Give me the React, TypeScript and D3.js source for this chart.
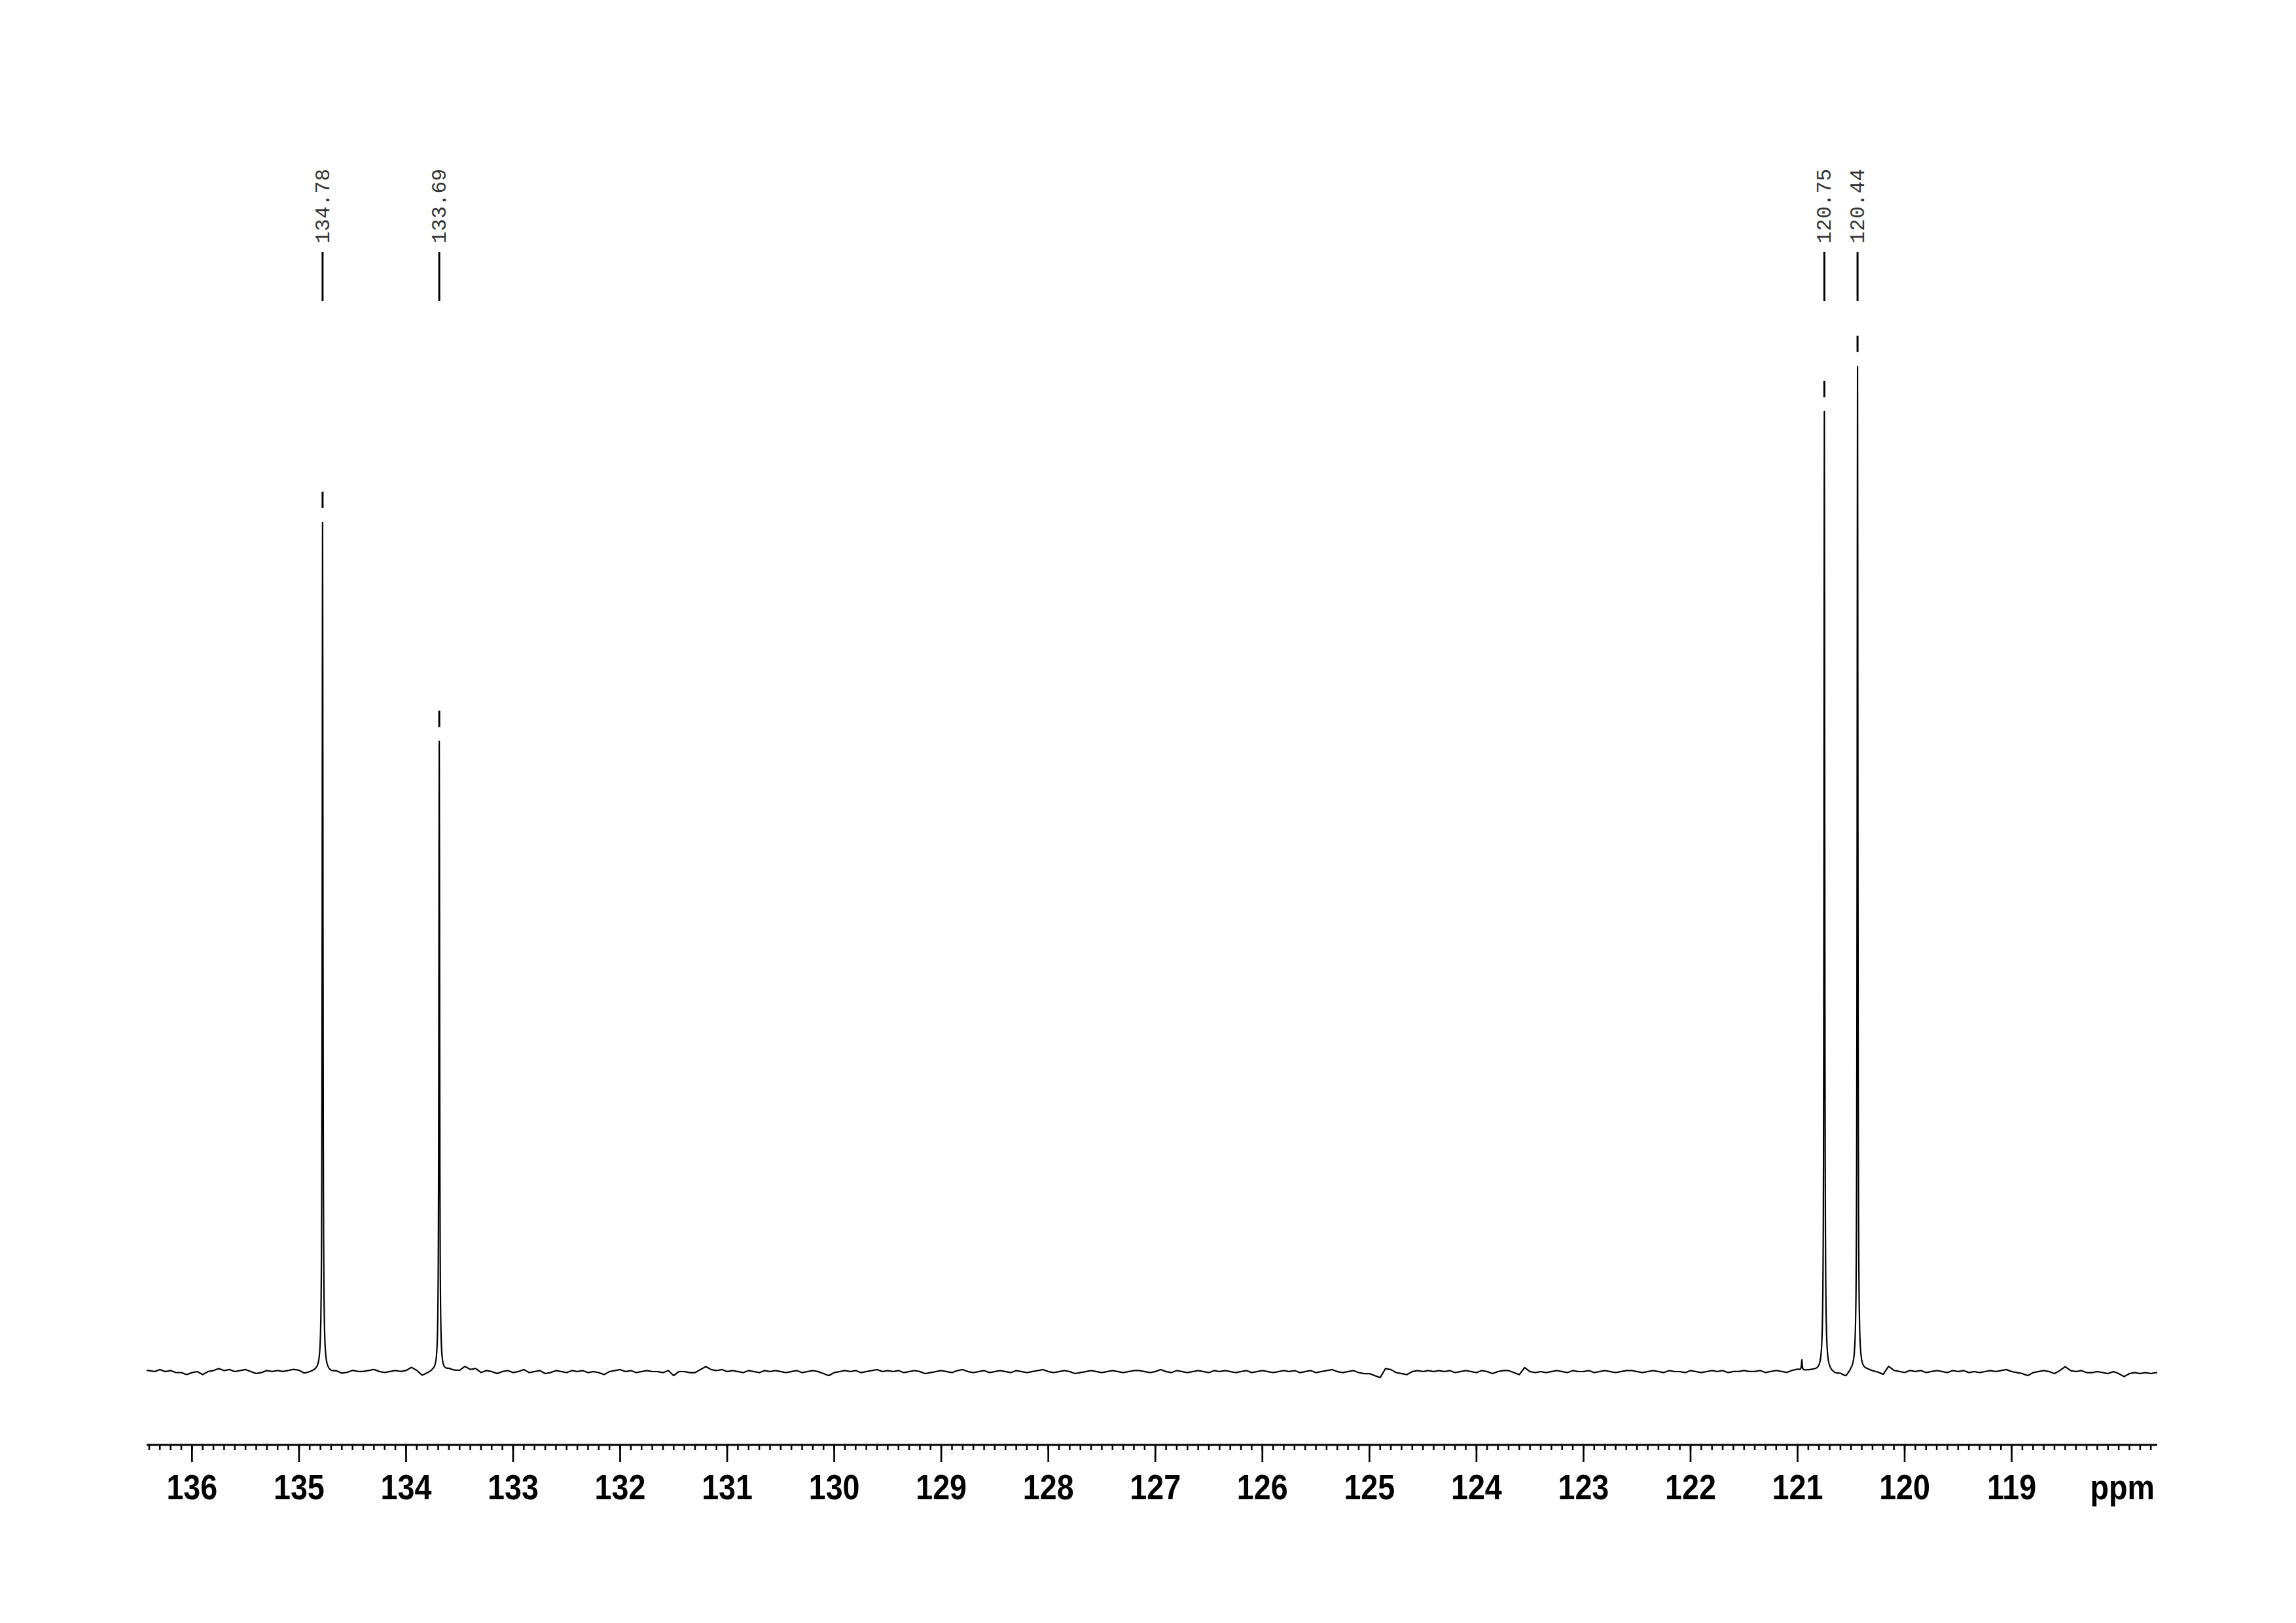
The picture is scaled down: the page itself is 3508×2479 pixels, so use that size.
import React from "react";
import * as d3 from "d3";

// ---- data ----
const PEAK_PPM = [134.78, 133.69, 120.75, 120.44];
const PEAK_HEIGHT = [845, 627, 955, 1000];
const PEAK_HALF_WIDTH = [0.0042, 0.0042, 0.0042, 0.0042];
const PEAK_LABELS = ["134.78", "133.69", "120.75", "120.44"];

const MINOR_PEAK_PPM = [120.96];
const MINOR_PEAK_HEIGHT = [10];
const MINOR_PEAK_HALF_WIDTH = [0.004];

// baseline noise, one value every 0.05 ppm starting at 136.40 ppm
const BASELINE_START = 136.4;
const BASELINE_STEP = 0.05;
const BASELINE = [
  1, 0, 2, 0, 1, -1, -1, -3, -1, 0, -3, 0, 1, 3, 1, 2, 0, 1, 2, 0,
  -2, -1, 1, 0, 1, 0, 1, 2, 1, -2, -1, 0, 0, 0, -1, 0, -2, -1, 1, 0,
  0, 1, 2, 0, -1, 0, 1, 0, 1, 4, 1, -4, -2, 0, 0, 0, 2, 1, 1, 5,
  2, 3, -1, 1, 0, -2, 0, 1, -1, 0, 2, -1, 0, 1, -2, -1, 1, 0, -1, 1,
  0, 1, -1, 0, -1, -3, 0, 1, 2, 0, 1, -1, 0, 1, 0, 0, -1, 1, -4, 0,
  0, -1, -1, 2, 5, 2, 1, 2, 0, 1, 0, -1, 1, 0, -1, 1, 0, 1, 0, -1,
  0, 1, -1, 0, 1, 0, -2, -4, -1, 0, 1, 0, 1, -1, 0, 1, 2, 0, 1, 0,
  1, -1, 0, 1, 0, -2, -1, 0, 1, 0, -1, 1, 2, 0, -1, 0, 1, -1, 0, 1,
  0, -1, 1, 0, -1, 0, 1, 2, 0, -1, 0, 1, 0, -2, -1, 0, 1, 0, -1, 0,
  1, 0, -1, 0, 1, 1, 0, -1, 0, 2, 0, -1, 1, 0, -1, 0, 1, 0, -1, 1,
  0, 1, 0, -1, 0, 1, -1, 0, 1, 0, -1, 0, 1, 0, 1, -1, 0, 1, -1, 0,
  1, 2, 0, -1, 0, 1, -1, -2, -2, -4, -6, 3, 2, -1, -2, -3, 0, 1, 0, 1,
  0, 1, 0, 1, -1, 0, 1, 0, -1, 1, 0, -2, 0, 1, 1, -1, -3, 4, 0, -1,
  0, -1, 0, 1, 0, -1, 1, 0, 0, 1, -1, 0, 1, 0, -1, 0, 1, 1, 0, -1,
  0, 1, 0, -1, 1, 0, 0, -1, 1, 0, -1, 0, 1, 0, 1, -1, 0, 0, 1, 0,
  0, 1, -1, 0, 1, 0, -1, 1, 2, 1, 1, 1, 0, 0, -1, -3, -3, -6, -1, 0,
  0, 1, 0, -1, -3, 5, 1, 0, -1, 1, 0, 1, -1, 0, 1, 0, -1, 1, 0, 1,
  -1, 0, -1, 0, 1, 0, 1, 2, 0, -1, -2, -4, -1, 0, 1, 0, -2, 1, 5, 1,
  0, 1, -1, -1, 0, -1, -2, 0, -2, -5, -2, -1, -2, -1, -2, -1,
];

const X_DOMAIN = [136.424, 117.64];
const MAJOR_TICKS = [136, 135, 134, 133, 132, 131, 130, 129, 128, 127, 126, 125, 124, 123, 122, 121, 120, 119];
const MINOR_TICK_START = 136.4;
const MINOR_TICK_END = 117.7;
const MINOR_TICK_STEP = 0.1;
const UNIT_LABEL = "ppm";

// ---- layout ----
const W = 3508;
const H = 2479;
const X0 = 224;
const X1 = 3296;
const Y_BASE = 2095;
const Y_REF_TOP = 560;
const AXIS_Y = 2207;

function baselineAt(ppm: number): number {
  const t = (BASELINE_START - ppm) / BASELINE_STEP;
  if (t <= 0) return BASELINE[0];
  if (t >= BASELINE.length - 1) return BASELINE[BASELINE.length - 1];
  const i = Math.floor(t);
  const f = t - i;
  return BASELINE[i] * (1 - f) + BASELINE[i + 1] * f;
}

function lorentz(ppm: number, c: number, h: number, g: number): number {
  const d = (ppm - c) / g;
  return h / (1 + d * d);
}

function intensityAt(ppm: number): number {
  let v = baselineAt(ppm);
  PEAK_PPM.forEach((c, i) => {
    v += lorentz(ppm, c, PEAK_HEIGHT[i], PEAK_HALF_WIDTH[i]);
  });
  MINOR_PEAK_PPM.forEach((c, i) => {
    v += lorentz(ppm, c, MINOR_PEAK_HEIGHT[i], MINOR_PEAK_HALF_WIDTH[i]);
  });
  return v;
}

export default function App() {
  const x = d3.scaleLinear().domain(X_DOMAIN).range([X0, X1]);
  const y = d3.scaleLinear().domain([0, 1000]).range([Y_BASE, Y_REF_TOP]);

  const step = 0.002;
  const n = Math.round((X_DOMAIN[0] - X_DOMAIN[1]) / step);
  const ppms = d3.range(0, n + 1).map((i) => X_DOMAIN[0] - i * step);
  const all = ppms.concat(PEAK_PPM, MINOR_PEAK_PPM).sort((a, b) => b - a);
  const pts = all.map((p) => [p, intensityAt(p)] as [number, number]);

  const line = d3
    .line<[number, number]>()
    .x((d) => x(d[0]))
    .y((d) => y(d[1]));

  const nMinor = Math.round((MINOR_TICK_START - MINOR_TICK_END) / MINOR_TICK_STEP);
  const minorTicks = d3.range(0, nMinor + 1).map((i) => +(MINOR_TICK_START - i * MINOR_TICK_STEP).toFixed(2));

  return (
    <svg
      width={W}
      height={H}
      viewBox={`0 0 ${W} ${H}`}
      style={{ position: "absolute", left: 0, top: 0, display: "block", background: "#fff" }}
    >
      <rect x={0} y={0} width={W} height={H} fill="#fff" />
      {/* spectrum */}
      <path d={line(pts) || ""} fill="none" stroke="#000" strokeWidth={2.2} strokeLinejoin="round" />

      {/* peak-top markers */}
      {PEAK_PPM.map((p, i) => {
        const yt = y(intensityAt(p));
        return (
          <line key={"m" + i} x1={x(p)} x2={x(p)} y1={yt - 47} y2={yt - 22} stroke="#000" strokeWidth={3} />
        );
      })}

      {/* peak annotations */}
      {PEAK_PPM.map((p, i) => (
        <g key={"a" + i}>
          <line x1={x(p)} x2={x(p)} y1={385} y2={460} stroke="#000" strokeWidth={3} />
          <text
            transform={`translate(${x(p)},372) rotate(-90)`}
            dy={10}
            textAnchor="start"
            fontFamily="'Liberation Mono', 'DejaVu Sans Mono', monospace"
            fontSize={31}
            letterSpacing={0.5}
            fill="#333"
          >
            {PEAK_LABELS[i]}
          </text>
        </g>
      ))}

      {/* axis */}
      <line x1={X0} x2={X1} y1={AXIS_Y} y2={AXIS_Y} stroke="#000" strokeWidth={3} />
      {minorTicks.map((t, i) => (
        <line key={"t" + i} x1={x(t)} x2={x(t)} y1={AXIS_Y} y2={2215} stroke="#000" strokeWidth={2.5} />
      ))}
      {MAJOR_TICKS.map((t) => (
        <g key={"M" + t}>
          <line x1={x(t)} x2={x(t)} y1={AXIS_Y} y2={2233} stroke="#000" strokeWidth={2.7} />
          <text
            transform={`translate(${x(t)},2290) scale(0.88,1)`}
            textAnchor="middle"
            fontFamily="'Liberation Sans', Arial, sans-serif"
            fontWeight="bold"
            fontSize={53}
            fill="#000"
          >
            {t}
          </text>
        </g>
      ))}
      <text
        transform={`translate(3292,2290) scale(0.88,1)`}
        textAnchor="end"
        fontFamily="'Liberation Sans', Arial, sans-serif"
        fontWeight="bold"
        fontSize={53}
        fill="#000"
      >
        {UNIT_LABEL}
      </text>
    </svg>
  );
}
